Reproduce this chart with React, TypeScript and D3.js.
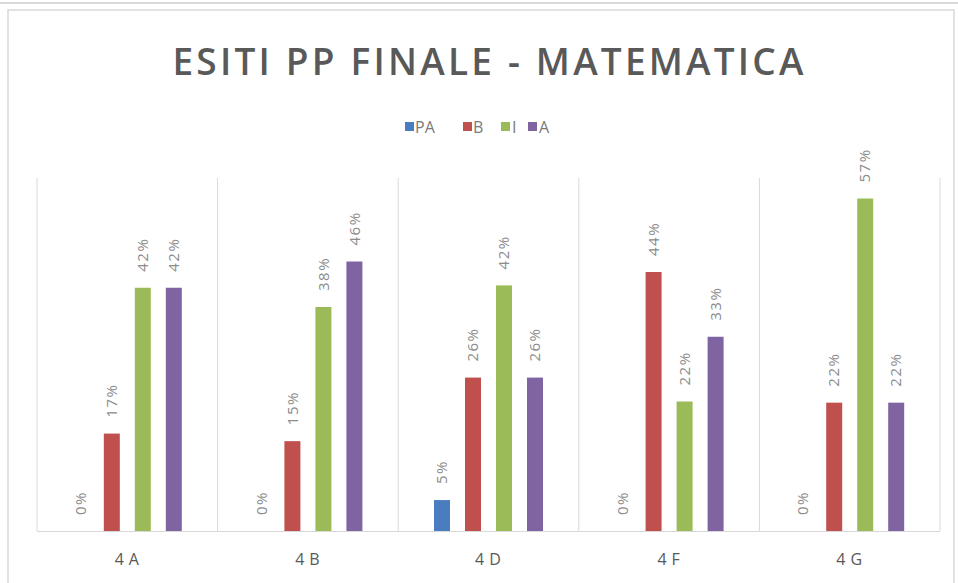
import React from "react";
import * as d3 from "d3";

const categories = ["4A", "4B", "4D", "4F", "4G"];
const seriesNames = ["PA", "B", "I", "A"];
const seriesColors = ["#4A7CC0", "#C0504D", "#9BBB59", "#8064A2"];
const valuesPA = [0, 0, 0.053, 0, 0];
const valuesB = [0.167, 0.154, 0.263, 0.444, 0.22];
const valuesI = [0.417, 0.384, 0.421, 0.222, 0.57];
const valuesA = [0.417, 0.462, 0.263, 0.333, 0.22];
const seriesValues = [valuesPA, valuesB, valuesI, valuesA];
const yMax = 0.6;
const title = "ESITI PP FINALE - MATEMATICA";

const W = 958;
const H = 583;
const plotLeft = 37;
const plotRight = 940;
const plotTop = 178;
const baseY = 531;

export default function App() {
  const x0 = d3.scaleBand<string>().domain(categories).range([plotLeft, plotRight]).paddingInner(0).paddingOuter(0);
  const x1 = d3
    .scaleBand<string>()
    .domain(seriesNames)
    .range([0, x0.bandwidth()])
    .paddingInner(0.484)
    .paddingOuter(1.155);
  const y = d3.scaleLinear().domain([0, yMax]).range([baseY, baseY - 350]);
  const fmt = (v: number) => `${Math.round(v * 100)}%`;

  const gridXs = categories.map((c) => x0(c) as number).concat([plotRight]);

  const legendItems = [
    { sq: 405, tx: 415 },
    { sq: 463, tx: 473 },
    { sq: 501, tx: 512 },
    { sq: 528, tx: 539 },
  ];

  return (
    <svg
      width={W}
      height={H}
      style={{ position: "absolute", left: 0, top: 0, background: "#fff" }}
      fontFamily="'Open Sans', 'DejaVu Sans', sans-serif"
    >
      <rect x={0} y={0} width={W} height={H} fill="#fff" />
      <line x1={0} x2={W} y1={3} y2={3} stroke="#d9d9d9" strokeWidth={2} />
      <rect x={8} y={10} width={946} height={H} fill="none" stroke="#d9d9d9" strokeWidth={1.5} />

      <text
        x={488}
        y={75}
        textAnchor="middle"
        fontSize={37}
        fontWeight={600}
        fill="#595959"
        textLength={631}
        lengthAdjust="spacing"
      >
        {title}
      </text>

      {seriesNames.map((s, i) => (
        <g key={s}>
          <rect x={legendItems[i].sq} y={122} width={9} height={9} fill={seriesColors[i]} />
          <text x={legendItems[i].tx} y={133} fontSize={16} fill="#7a7a7a">
            {s}
          </text>
        </g>
      ))}

      {gridXs.map((gx, i) => (
        <line key={i} x1={gx} x2={gx} y1={plotTop} y2={baseY} stroke="#d9d9d9" strokeWidth={1} />
      ))}
      <line x1={plotLeft} x2={plotRight} y1={baseY + 0.5} y2={baseY + 0.5} stroke="#d9d9d9" strokeWidth={1} />

      {categories.map((c, ci) => (
        <g key={c} transform={`translate(${x0(c)},0)`}>
          {seriesNames.map((s, si) => {
            const v = seriesValues[si][ci];
            const bx = x1(s) as number;
            const bw = x1.bandwidth();
            const top = y(v);
            return (
              <g key={s}>
                {v > 0 && <rect x={bx} y={top} width={bw} height={baseY - top} fill={seriesColors[si]} />}
                <text
                  transform={`translate(${bx + bw / 2},${top - 16}) rotate(-90)`}
                  dy="0.35em"
                  fontSize={15}
                  letterSpacing={1.5}
                  fill="#8c8c8c"
                >
                  {fmt(v)}
                </text>
              </g>
            );
          })}
          <text
            x={x0.bandwidth() / 2 + 2}
            y={565}
            textAnchor="middle"
            fontSize={16}
            letterSpacing={5}
            fill="#595959"
          >
            {c}
          </text>
        </g>
      ))}
    </svg>
  );
}
